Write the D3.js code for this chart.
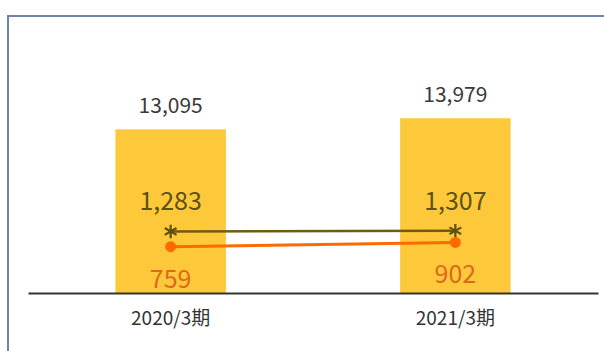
<!DOCTYPE html>
<html><head><meta charset="utf-8">
<script src="https://cdn.jsdelivr.net/npm/d3@7"></script>
<style>html,body{margin:0;padding:0;background:#fff;}svg{display:block;}</style>
</head><body>
<script>
const categories = ["2020/3期", "2021/3期"];
const sales = [13095, 13979];
const ordinaryProfit = [1283, 1307];
const netProfit = [759, 902];

const W = 604, H = 351;
const font = "'Noto Sans CJK JP','Noto Sans',sans-serif";
const svg = d3.select("body").append("svg").attr("width", W).attr("height", H);

// frame
svg.append("rect").attr("x", 8).attr("y", 16).attr("width", 620).attr("height", 400)
  .attr("fill", "none").attr("stroke", "#6d87a8").attr("stroke-width", 2);

const x = d3.scaleBand().domain(categories).range([28, 598]).paddingInner(0.612).paddingOuter(0.307);
const y = d3.scaleLinear().domain([0, 16000]).range([293, 93]);
const y2 = d3.scaleLinear().domain([-840, 5000]).range([293, 293 - 5840 * 0.029]);

// bars
svg.selectAll("rect.bar").data(sales).join("rect").attr("class", "bar")
  .attr("x", (d, i) => x(categories[i])).attr("width", x.bandwidth())
  .attr("y", d => y(d)).attr("height", d => y(0) - y(d))
  .attr("fill", "#fdc93a");

// baseline axis
const xAxis = d3.axisBottom(x).tickSize(0).tickPadding(19);
const ax = svg.append("g").attr("transform", `translate(0,${y(0)})`).call(xAxis);
ax.select(".domain").attr("stroke", "#333").attr("stroke-width", 2);
ax.selectAll("text").attr("font-family", font).attr("font-size", 19).attr("fill", "#333");

// sales labels
svg.selectAll("text.sl").data(sales).join("text").attr("class", "sl")
  .attr("x", (d, i) => x(categories[i]) + x.bandwidth() / 2).attr("y", d => y(d) - 16)
  .attr("text-anchor", "middle").attr("font-family", font).attr("font-size", 21)
  .attr("fill", "#3a3a3a").text(d => d3.format(",")(d));

const cx = (d, i) => x(categories[i]) + x.bandwidth() / 2;

// ordinary profit line
const line = d3.line().x((d, i) => cx(d, i)).y(d => y2(d));
svg.append("path").datum(ordinaryProfit).attr("d", line)
  .attr("fill", "none").attr("stroke", "#6e5c12").attr("stroke-width", 2.5);
svg.selectAll("path.ast").data(ordinaryProfit).join("path").attr("class", "ast")
  .attr("d", d3.symbol(d3.symbolAsterisk, 130))
  .attr("transform", (d, i) => `translate(${cx(d, i)},${y2(d)})`)
  .attr("fill", "none").attr("stroke", "#5f4f10").attr("stroke-width", 2.2);

// net profit line
svg.append("path").datum(netProfit).attr("d", line)
  .attr("fill", "none").attr("stroke", "#ff6a00").attr("stroke-width", 3);
svg.selectAll("circle.np").data(netProfit).join("circle").attr("class", "np")
  .attr("cx", (d, i) => cx(d, i)).attr("cy", d => y2(d)).attr("r", 5.5)
  .attr("fill", "#ff6a00");

// labels
svg.selectAll("text.ol").data(ordinaryProfit).join("text").attr("class", "ol")
  .attr("x", (d, i) => cx(d, i)).attr("y", d => y2(d) - 21)
  .attr("text-anchor", "middle").attr("font-family", font).attr("font-size", 25)
  .attr("fill", "#5f5115").text(d => d3.format(",")(d));
svg.selectAll("text.nl").data(netProfit).join("text").attr("class", "nl")
  .attr("x", (d, i) => cx(d, i)).attr("y", d => y2(d) + 41)
  .attr("text-anchor", "middle").attr("font-family", font).attr("font-size", 25)
  .attr("fill", "#e0681c").text(d => d3.format(",")(d));
</script>
</body></html>
